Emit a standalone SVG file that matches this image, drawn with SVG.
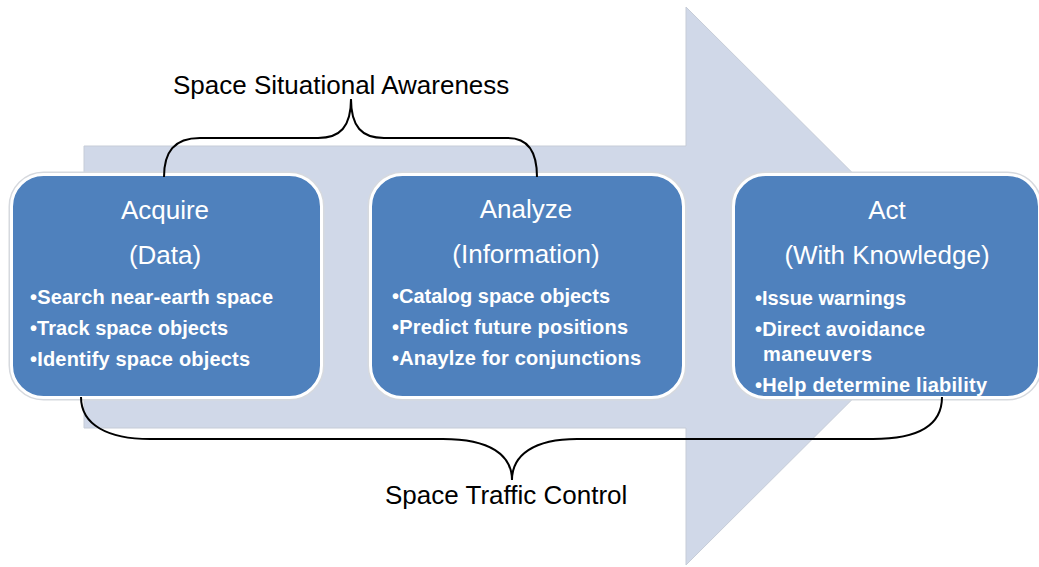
<svg xmlns="http://www.w3.org/2000/svg" width="1039" height="567" viewBox="0 0 1039 567">
<style>
.box{fill:#4F81BD;stroke:#FFFFFF;stroke-width:3}
.shadow{fill:none;stroke:#D6D9DE;stroke-width:6}
.title{font-family:"Liberation Sans",Arial,sans-serif;font-size:26px;fill:#FFFFFF;text-anchor:middle}
.bul{font-family:"Liberation Sans",Arial,sans-serif;font-size:20px;font-weight:bold;fill:#FFFFFF}
.lbl{font-family:"Liberation Sans",Arial,sans-serif;font-size:26px;fill:#000000}
.brace{fill:none;stroke:#000000;stroke-width:2}
</style>
<rect width="1039" height="567" fill="#FFFFFF"/>
<g id="arrow">
<polygon points="84,146 686,146 686,7 966,286 686,565 686,428 84,428" fill="#D0D8E8" stroke="#C6CCD7" stroke-width="1"/>
</g>
<g id="acquire">
<rect class="shadow" x="11.5" y="174.5" width="310" height="223" rx="32"/>
<rect class="box" x="11.5" y="174.5" width="310" height="223" rx="32"/>
<text class="title" x="165" y="219">Acquire</text>
<text class="title" x="165" y="264">(Data)</text>
<text class="bul" x="30" y="304" textLength="243" lengthAdjust="spacing">•Search near-earth space</text>
<text class="bul" x="30" y="335" textLength="198" lengthAdjust="spacing">•Track space objects</text>
<text class="bul" x="30" y="366" textLength="220" lengthAdjust="spacing">•Identify space objects</text>
</g>
<g id="analyze">
<rect class="shadow" x="370.5" y="174.5" width="313" height="223" rx="32"/>
<rect class="box" x="370.5" y="174.5" width="313" height="223" rx="32"/>
<text class="title" x="526" y="218">Analyze</text>
<text class="title" x="526" y="263">(Information)</text>
<text class="bul" x="392" y="303" textLength="218" lengthAdjust="spacing">•Catalog space objects</text>
<text class="bul" x="392" y="334" textLength="236" lengthAdjust="spacing">•Predict future positions</text>
<text class="bul" x="392" y="365" textLength="249" lengthAdjust="spacing">•Anaylze for conjunctions</text>
</g>
<g id="act">
<rect class="shadow" x="733.5" y="174.5" width="306" height="223" rx="32"/>
<rect class="box" x="733.5" y="174.5" width="306" height="223" rx="32"/>
<text class="title" x="887" y="219">Act</text>
<text class="title" x="887" y="264">(With Knowledge)</text>
<text class="bul" x="755" y="305" textLength="151" lengthAdjust="spacing">•Issue warnings</text>
<text class="bul" x="755" y="336" textLength="170" lengthAdjust="spacing">•Direct avoidance</text>
<text class="bul" x="763" y="361" textLength="109" lengthAdjust="spacing">maneuvers</text>
<text class="bul" x="755" y="392" textLength="232" lengthAdjust="spacing">•Help determine liability</text>
</g>
<g id="connectors">
<path class="brace" d="M164,177 C164,152 174,138 200,138 L318,138 C340,138 351,127 351,99 C351,127 362,138 384,138 L508,138 C528,138 537,152 537,177"/>
<path class="brace" d="M81,397 C81,425 108,439 150,439 L443,439 C490,439 512,455 512,480 C512,455 534,439 577,439 L873,439 C918,439 942,425 942,397"/>
</g>
<g id="label-ssa">
<text class="lbl" x="173" y="94">Space Situational Awareness</text>
</g>
<g id="label-stc">
<text class="lbl" x="385" y="504">Space Traffic Control</text>
</g>
</svg>
